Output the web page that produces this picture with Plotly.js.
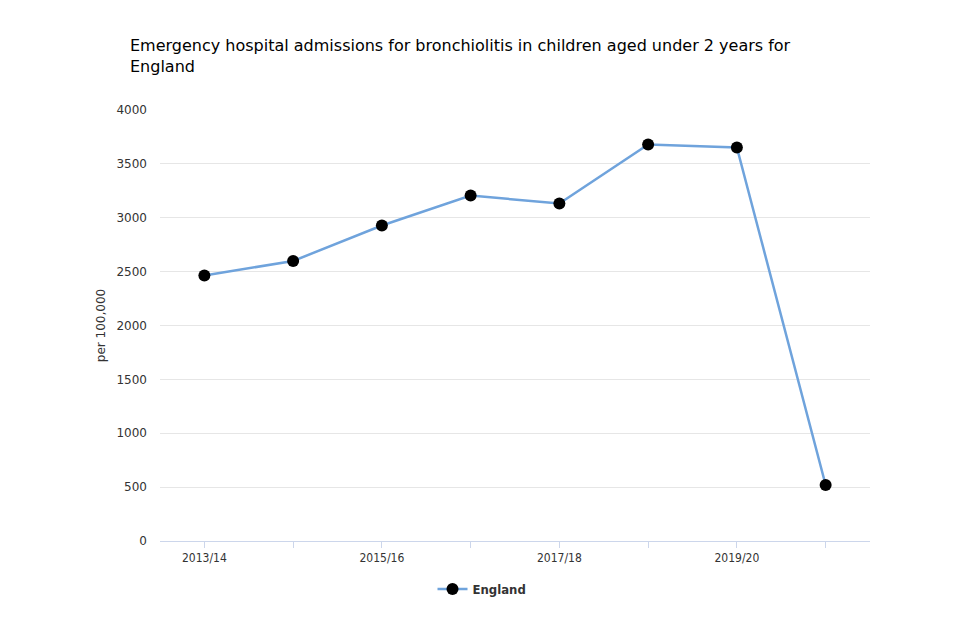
<!DOCTYPE html>
<html>
<head>
<meta charset="utf-8">
<script src="https://cdn.plot.ly/plotly-3.0.1.min.js"></script>
<style>html,body{margin:0;padding:0;background:#fff;}#chart{width:960px;height:640px;}</style>
</head>
<body>
<div id="chart"></div>
<script>
var categories = ["2013/14","2014/15","2015/16","2016/17","2017/18","2018/19","2019/20","2020/21"];
var englandValues = [2464, 2599, 2928, 3206, 3132, 3680, 3652, 520];
var xTickLabels = ["2013/14","","2015/16","","2017/18","","2019/20",""];
var yTickValues = [0,500,1000,1500,2000,2500,3000,3500,4000];

var trace = {
  x: categories,
  y: englandValues,
  type: 'scatter',
  mode: 'lines+markers',
  name: 'England',
  line: {color: '#6fa3dc', width: 2.5},
  marker: {color: '#000000', size: 12, line: {color: '#000000', width: 0}}
};

var layout = {
  width: 960, height: 640,
  paper_bgcolor: '#ffffff', plot_bgcolor: '#ffffff',
  margin: {l: 160, r: 90, t: 110, b: 99},
  title: {
    text: 'Emergency hospital admissions for bronchiolitis in children aged under 2 years for<br>England',
    x: 130/960, xanchor: 'left', xref: 'container',
    y: 1 - 51/640, yanchor: 'top', yref: 'container',
    font: {family: 'DejaVu Sans, sans-serif', size: 16, color: '#000000'}
  },
  xaxis: {
    type: 'category',
    range: [-0.5, 7.5],
    tickvals: categories,
    ticktext: xTickLabels,
    ticks: 'outside', ticklen: 6, tickcolor: '#ccd6eb', tickwidth: 1,
    showline: true, linecolor: '#ccd6eb', linewidth: 1,
    showgrid: false, zeroline: false,
    tickfont: {family: 'DejaVu Sans Condensed, DejaVu Sans, sans-serif', size: 12, color: '#333333'},
    fixedrange: true
  },
  yaxis: {
    range: [0, 4000],
    tickvals: yTickValues,
    showgrid: true, gridcolor: '#e6e6e6', gridwidth: 1,
    zeroline: false, showline: false, ticks: '',
    ticklabelstandoff: 12,
    tickfont: {family: 'DejaVu Sans, sans-serif', size: 12, color: '#333333'},
    title: {text: 'per 100,000', standoff: 8, font: {family: 'DejaVu Sans, sans-serif', size: 12, color: '#333333'}},
    fixedrange: true
  },
  showlegend: true,
  legend: {
    orientation: 'h', x: 482/960, xanchor: 'center', xref: 'container',
    y: 1 - 589/640, yanchor: 'middle', yref: 'container',
    font: {family: 'DejaVu Sans Condensed, DejaVu Sans, sans-serif', size: 13, color: '#333333', weight: 'bold'},
    itemwidth: 30
  }
};

Plotly.newPlot('chart', [trace], layout, {displayModeBar: false, staticPlot: true});
</script>
</body>
</html>
